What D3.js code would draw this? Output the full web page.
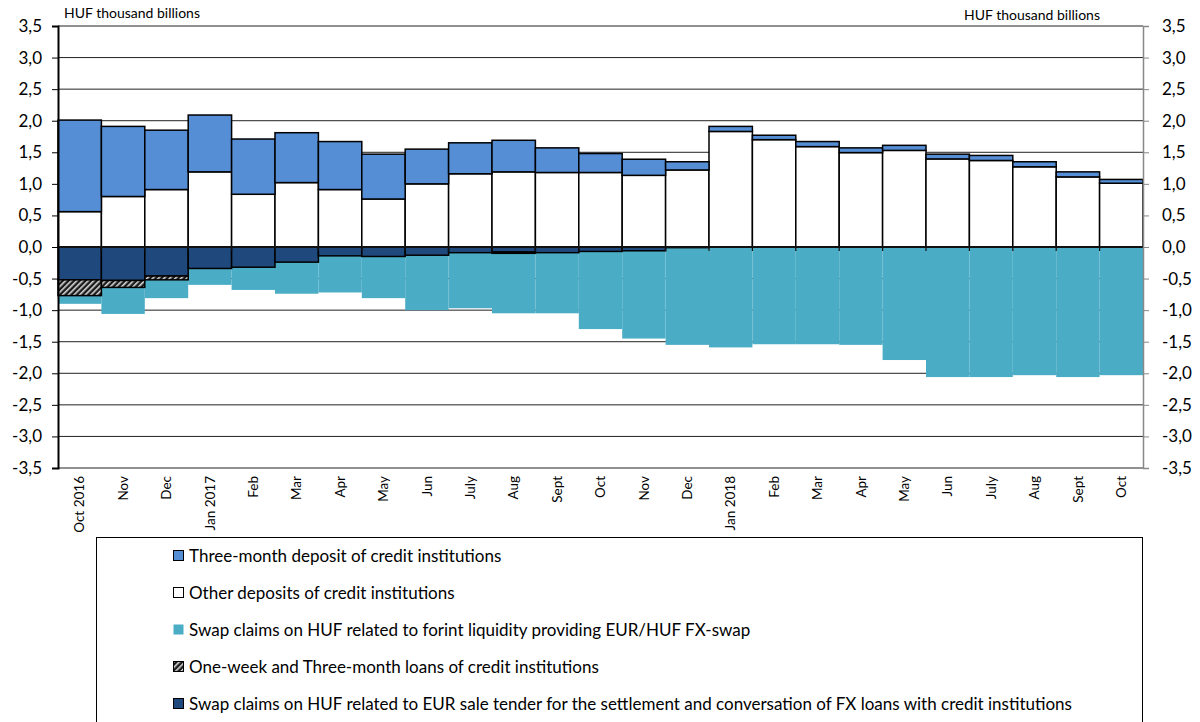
<!DOCTYPE html>
<html>
<head>
<meta charset="utf-8">
<script src="https://cdn.jsdelivr.net/npm/d3@7"></script>
<style>
  body { margin: 0; background: #fff; }
  svg { display: block; font-family: Lato, "Open Sans", sans-serif; }
</style>
</head>
<body>
<div id="chart"></div>
<script>
// Months on the x axis (Oct 2016 – Oct 2018)
const months = ["Oct 2016", "Nov", "Dec", "Jan 2017", "Feb", "Mar", "Apr", "May", "Jun", "July", "Aug", "Sept",
  "Oct", "Nov", "Dec", "Jan 2018", "Feb", "Mar", "Apr", "May", "Jun", "July", "Aug", "Sept", "Oct"];

// HUF thousand billions
const otherDeposits = [0.56, 0.80, 0.91, 1.19, 0.835, 1.02, 0.91, 0.76, 1.00, 1.16, 1.19, 1.18,
  1.18, 1.135, 1.22, 1.83, 1.70, 1.59, 1.495, 1.53, 1.395, 1.37, 1.27, 1.11, 1.01];
const threeMonthDeposit = [1.45, 1.11, 0.94, 0.90, 0.875, 0.79, 0.76, 0.71, 0.55, 0.49, 0.50, 0.39,
  0.30, 0.255, 0.13, 0.08, 0.07, 0.08, 0.075, 0.08, 0.075, 0.08, 0.08, 0.08, 0.06];
const eurTenderSwap = [-0.52, -0.53, -0.46, -0.34, -0.32, -0.24, -0.14, -0.15, -0.13, -0.09, -0.08, -0.09,
  -0.07, -0.06, -0.01, 0, 0, 0, 0, 0, 0, 0, 0, 0, 0];
const loans = [-0.25, -0.11, -0.06, 0, 0, 0, 0, 0, 0, 0, -0.02, 0,
  0, 0, 0, 0, 0, 0, 0, 0, 0, 0, 0, 0, 0];
const fxSwap = [-0.13, -0.42, -0.29, -0.26, -0.36, -0.50, -0.58, -0.66, -0.87, -0.88, -0.95, -0.96,
  -1.23, -1.39, -1.54, -1.59, -1.54, -1.54, -1.55, -1.79, -2.06, -2.06, -2.03, -2.06, -2.03];

const yTicks = [-3.5, -3, -2.5, -2, -1.5, -1, -0.5, 0, 0.5, 1, 1.5, 2, 2.5, 3, 3.5];

const width = 1200, height = 722;
const margin = { top: 26, right: 57, bottom: 254, left: 58 };

const svg = d3.select("#chart").append("svg")
  .attr("width", width)
  .attr("height", height);

// hatch pattern for the loans series
const defs = svg.append("defs");
const pat = defs.append("pattern")
  .attr("id", "hatch")
  .attr("patternUnits", "userSpaceOnUse")
  .attr("width", 4).attr("height", 4)
  .attr("patternTransform", "rotate(45)");
pat.append("rect").attr("width", 4).attr("height", 4).attr("fill", "#1a1a1a");
pat.append("rect").attr("width", 1.6).attr("height", 4).attr("fill", "#d8d8d8");

const x = d3.scaleBand()
  .domain(months.map((_, i) => i))
  .range([margin.left, width - margin.right])
  .padding(0);

const y = d3.scaleLinear()
  .domain([-3.5, 3.5])
  .range([height - margin.bottom, margin.top]);

const fmt = d => d3.format(".1f")(d).replace(".", ",").replace("−", "-");

// gridlines
svg.append("g")
  .selectAll("line")
  .data(yTicks)
  .join("line")
  .attr("x1", margin.left)
  .attr("x2", width - margin.right)
  .attr("y1", d => y(d))
  .attr("y2", d => y(d))
  .attr("stroke", "#222")
  .attr("stroke-width", 1);

// stacked data
const keys = ["other", "three", "eur", "loans", "swap"];
const rows = months.map((m, i) => ({
  i: i,
  other: otherDeposits[i],
  three: threeMonthDeposit[i],
  eur: eurTenderSwap[i],
  loans: loans[i],
  swap: fxSwap[i]
}));
const series = d3.stack().keys(keys).offset(d3.stackOffsetDiverging)(rows);

const styles = {
  other: { fill: "#ffffff", stroke: "#000" },
  three: { fill: "#558ed5", stroke: "#000" },
  eur: { fill: "#1f497d", stroke: "#000" },
  loans: { fill: "url(#hatch)", stroke: "#000" },
  swap: { fill: "#4bacc6", stroke: "none" }
};

// draw the teal series first so outlines of the others sit on top
const drawOrder = ["swap", "other", "three", "eur", "loans"];
drawOrder.forEach(k => {
  const s = series.find(d => d.key === k);
  svg.append("g")
    .selectAll("rect")
    .data(s.filter(d => d[1] - d[0] !== 0))
    .join("rect")
    .attr("x", d => x(d.data.i))
    .attr("width", x.bandwidth())
    .attr("y", d => y(Math.max(d[0], d[1])))
    .attr("height", d => Math.abs(y(d[0]) - y(d[1])))
    .attr("fill", styles[k].fill)
    .attr("stroke", styles[k].stroke)
    .attr("stroke-width", 1.5);
});

// zero line with small category ticks
svg.append("line")
  .attr("x1", margin.left).attr("x2", width - margin.right)
  .attr("y1", y(0)).attr("y2", y(0))
  .attr("stroke", "#111").attr("stroke-width", 2);
svg.append("g")
  .selectAll("line")
  .data(months.slice(1).map((_, i) => i + 1))
  .join("line")
  .attr("x1", d => x(d)).attr("x2", d => x(d))
  .attr("y1", y(0)).attr("y2", y(0) + 4)
  .attr("stroke", "#111").attr("stroke-width", 1.2);

// left axis
const yLeft = svg.append("g")
  .attr("transform", `translate(${margin.left},0)`)
  .call(d3.axisLeft(y).tickValues(yTicks).tickFormat(fmt).tickSize(6).tickPadding(10));
yLeft.select(".domain").attr("stroke", "#000").attr("stroke-width", 2);
yLeft.selectAll(".tick line").attr("stroke", "#000");
yLeft.selectAll("text").attr("font-size", 17).attr("fill", "#000").attr("font-family", "Lato, sans-serif");

// right axis
const yRight = svg.append("g")
  .attr("transform", `translate(${width - margin.right},0)`)
  .call(d3.axisRight(y).tickValues(yTicks).tickFormat(fmt).tickSize(6).tickPadding(13));
yRight.select(".domain").attr("stroke", "#888").attr("stroke-width", 1.5);
yRight.selectAll(".tick line").attr("stroke", "#888");
yRight.selectAll("text").attr("font-size", 17).attr("fill", "#000").attr("font-family", "Lato, sans-serif");

// x labels (rotated)
svg.append("g")
  .selectAll("text")
  .data(months)
  .join("text")
  .attr("transform", (d, i) => `translate(${x(i) + x.bandwidth() / 2},${y(-3.5) + 8}) rotate(-90)`)
  .attr("dy", "0.35em")
  .attr("text-anchor", "end")
  .attr("font-size", 13.5)
  .attr("fill", "#000")
  .text(d => d);

// unit labels
svg.append("text")
  .attr("x", 64).attr("y", 18)
  .attr("font-size", 14).attr("fill", "#000")
  .text("HUF thousand billions");
svg.append("text")
  .attr("x", 1100).attr("y", 20)
  .attr("text-anchor", "end")
  .attr("font-size", 14).attr("fill", "#000")
  .text("HUF thousand billions");

// legend
const legendItems = [
  { label: "Three-month deposit of credit institutions", fill: "#558ed5", stroke: "#000" },
  { label: "Other deposits of credit institutions", fill: "#fff", stroke: "#000" },
  { label: "Swap claims on HUF related to forint liquidity providing EUR/HUF FX-swap", fill: "#4bacc6", stroke: "none" },
  { label: "One-week and Three-month loans of credit institutions", fill: "url(#hatch)", stroke: "#000" },
  { label: "Swap claims on HUF related to EUR sale tender for the settlement and conversation of FX loans with credit institutions", fill: "#1f497d", stroke: "#000" }
];

svg.append("rect")
  .attr("x", 96.5).attr("y", 537.5)
  .attr("width", 1046).attr("height", 200)
  .attr("fill", "#fff")
  .attr("stroke", "#000");

const lg = svg.append("g")
  .selectAll("g")
  .data(legendItems)
  .join("g")
  .attr("transform", (d, i) => `translate(173,${556 + i * 37})`);
lg.append("rect")
  .attr("x", 0.5).attr("y", -5.5)
  .attr("width", 10).attr("height", 10)
  .attr("fill", d => d.fill)
  .attr("stroke", d => d.stroke);
lg.append("text")
  .attr("x", 16).attr("dy", "0.35em")
  .attr("font-size", 17)
  .attr("fill", "#000")
  .text(d => d.label);
</script>
</body>
</html>
